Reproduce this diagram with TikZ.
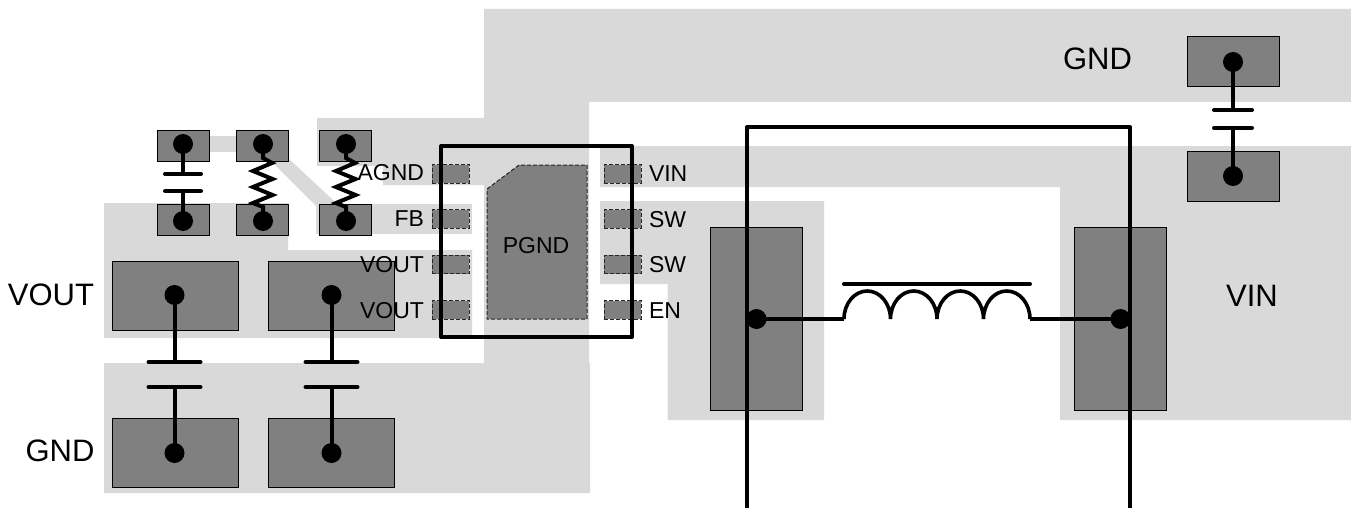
\documentclass[tikz,border=0pt]{standalone}
\usepackage{fontspec}
\setmainfont{Liberation Sans}
\definecolor{plane}{HTML}{D9D9D9}
\definecolor{padgray}{HTML}{808080}
\tikzset{
  copper/.style={fill=plane,draw=none},
  pad/.style={rectangle,draw=black,line width=1pt,fill=padgray,inner sep=0pt,outer sep=0pt},
  pin/.style={rectangle,draw=black!85,line width=1pt,dash pattern=on 4pt off 2pt,fill=padgray,inner sep=0pt,outer sep=0pt,minimum width=37pt,minimum height=18.5pt},
  via/.style={circle,fill=black,draw=none,inner sep=0pt,outer sep=0pt,minimum size=20pt},
  wire/.style={line width=4pt,black},
  plate/.style={line width=4pt,black,line cap=round},
  outline/.style={line width=4pt,black,line join=round},
  biglabel/.style={inner sep=0pt,outer sep=0pt,font=\fontsize{31}{31}\selectfont},
  pinlabel/.style={inner sep=0pt,outer sep=0pt,font=\fontsize{23}{23}\selectfont},
}
\begin{document}
\begin{tikzpicture}[x=1pt,y=-1pt]
\useasboundingbox (0,0) rectangle (1351,508);
% copper planes
\fill[copper] (484,9)--(1351,9)--(1351,102)--(589,102)--(589,363)--(590,363)--(590,493)--(104,493)--(104,363)--(484,363)--(484,185)--(383,185)--(383,166)--(317,166)--(317,118)--(484,118)--cycle;
\fill[copper] (600,146)--(1351,146)--(1351,420)--(1060,420)--(1060,187)--(600,187)--cycle;
\fill[copper] (600,201)--(824,201)--(824,420)--(667.5,420)--(667.5,284)--(600,284)--cycle;
\fill[copper] (104,203)--(288,203)--(288,250)--(472,250)--(472,338)--(104,338)--cycle;
\fill[copper] (316,204)--(472,204)--(472,234)--(316,234)--cycle;
\fill[copper] (205,136)--(240,136)--(240,152)--(205,152)--cycle;
\fill[copper] (273,163)--(288,158)--(334,201)--(334,215)--(316,206)--cycle;
% pads
\node[pad,minimum width=52pt,minimum height=30pt] (pc1t) at (183,146) {};
\node[pad,minimum width=52pt,minimum height=31pt] (pc1b) at (183,219.5) {};
\node[pad,minimum width=52pt,minimum height=30pt] (pr1t) at (262,146) {};
\node[pad,minimum width=52pt,minimum height=31pt] (pr1b) at (262,219.5) {};
\node[pad,minimum width=52pt,minimum height=30pt] (pr2t) at (345,146) {};
\node[pad,minimum width=52pt,minimum height=31pt] (pr2b) at (345,219.5) {};
\node[pad,minimum width=126pt,minimum height=69pt] (pc2t) at (175,295.5) {};
\node[pad,minimum width=126pt,minimum height=69pt] (pc2b) at (175,452.5) {};
\node[pad,minimum width=126pt,minimum height=69pt] (pc3t) at (331.7,295.5) {};
\node[pad,minimum width=126pt,minimum height=69pt] (pc3b) at (331.7,452.5) {};
\node[pad,minimum width=92pt,minimum height=50pt] (pc4t) at (1233,62) {};
\node[pad,minimum width=92pt,minimum height=50pt] (pc4b) at (1233,176) {};
\node[pad,minimum width=92pt,minimum height=183pt] (pl1) at (756,318.5) {};
\node[pad,minimum width=92pt,minimum height=183pt] (pl2) at (1120,318.5) {};
% chip pins
\node[pin] (u1) at (450.5,174) {};
\node[pin] (u2) at (450.5,219) {};
\node[pin] (u3) at (450.5,264.5) {};
\node[pin] (u4) at (450.5,310) {};
\node[pin] (u5) at (622.5,310) {};
\node[pin] (u6) at (622.5,264.5) {};
\node[pin] (u7) at (622.5,219) {};
\node[pin] (u8) at (622.5,174) {};
\draw[draw=black!85,line width=1pt,dash pattern=on 4pt off 2pt,fill=padgray] (487,189)--(519,165)--(587,165)--(587,319)--(487,319)--cycle;
% labels
\node[pinlabel,anchor=base] (tpgnd) at (536,253) {PGND};
\node[pinlabel,anchor=base east] (tagnd) at (424,180) {AGND};
\node[pinlabel,anchor=base east] (tfb) at (424,226) {FB};
\node[pinlabel,anchor=base east] (tv1) at (424,272) {VOUT};
\node[pinlabel,anchor=base east] (tv2) at (424,318) {VOUT};
\node[pinlabel,anchor=base west] (tvin) at (649,181) {VIN};
\node[pinlabel,anchor=base west] (tsw1) at (649,227) {SW};
\node[pinlabel,anchor=base west] (tsw2) at (649,272) {SW};
\node[pinlabel,anchor=base west] (ten) at (649,318) {EN};
\node[biglabel,anchor=base east] (lvout) at (94,305.5) {VOUT};
\node[biglabel,anchor=base east] (lgnd) at (94.5,461) {GND};
\node[biglabel,anchor=base east] (lgnd2) at (1132,69.5) {GND};
\node[biglabel,anchor=base] (lvin) at (1252,306.5) {VIN};
% vias
\node[via] (v1t) at (183,144) {};
\node[via] (v1b) at (183,221) {};
\node[via] (r1t) at (263,144) {};
\node[via] (r1b) at (263,221) {};
\node[via] (r2t) at (346,144) {};
\node[via] (r2b) at (346,221) {};
\node[via] (v2t) at (174.5,295) {};
\node[via] (v2b) at (174.5,453) {};
\node[via] (v3t) at (331.5,295) {};
\node[via] (v3b) at (331.5,453) {};
\node[via] (v4t) at (1233,62) {};
\node[via] (v4b) at (1233,176) {};
\node[via] (l1) at (756.5,319) {};
\node[via] (l2) at (1120.5,319) {};
% capacitors
\coordinate (c1a) at (183,174); \coordinate (c1b) at (183,191);
\coordinate (c2a) at (174.5,362); \coordinate (c2b) at (174.5,387);
\coordinate (c3a) at (331.5,362); \coordinate (c3b) at (331.5,387);
\coordinate (c4a) at (1233,110); \coordinate (c4b) at (1233,128);
\draw[wire] (v1t.center)--(c1a); \draw[wire] (c1b)--(v1b.center);
\draw[wire] (v2t.center)--(c2a); \draw[wire] (c2b)--(v2b.center);
\draw[wire] (v3t.center)--(c3a); \draw[wire] (c3b)--(v3b.center);
\draw[wire] (v4t.center)--(c4a); \draw[wire] (c4b)--(v4b.center);
\draw[plate] ([xshift=-18pt]c1a)--([xshift=18pt]c1a);
\draw[plate] ([xshift=-18pt]c1b)--([xshift=18pt]c1b);
\draw[plate] ([xshift=-26pt]c2a)--([xshift=26pt]c2a);
\draw[plate] ([xshift=-26pt]c2b)--([xshift=26pt]c2b);
\draw[plate] ([xshift=-26pt]c3a)--([xshift=26pt]c3a);
\draw[plate] ([xshift=-26pt]c3b)--([xshift=26pt]c3b);
\draw[plate] ([xshift=-19pt]c4a)--([xshift=19pt]c4a);
\draw[plate] ([xshift=-19pt]c4b)--([xshift=19pt]c4b);
% resistors
\draw[wire,line join=miter] (r1t.center)--(263,158)--(272,163)--(253,171)--(272.5,179)--(253,187)--(272.5,195)--(253,203)--(263,207)--(r1b.center);
\draw[wire,line join=miter] (r2t.center)--(346,158)--(355,163)--(336,171)--(355.5,179)--(336,187)--(355.5,195)--(336,203)--(346,207)--(r2b.center);
% inductor
\coordinate (ls) at (844,319); \coordinate (le) at (1030,319);
\draw[wire] (l1.center)--(ls);
\draw[wire] (le)--(l2.center);
\draw[line width=3.6pt,black] (ls) arc[start angle=180,end angle=360,x radius=23.25,y radius=28]
  arc[start angle=180,end angle=360,x radius=23.25,y radius=28]
  arc[start angle=180,end angle=360,x radius=23.25,y radius=28]
  arc[start angle=180,end angle=360,x radius=23.25,y radius=28];
\draw[plate] (844,284)--(1030,284);
% outlines
\draw[outline] (441,146) rectangle (632,337);
\draw[outline] (747,508)--(747,127)--(1130,127)--(1130,508);
\end{tikzpicture}
\end{document}
